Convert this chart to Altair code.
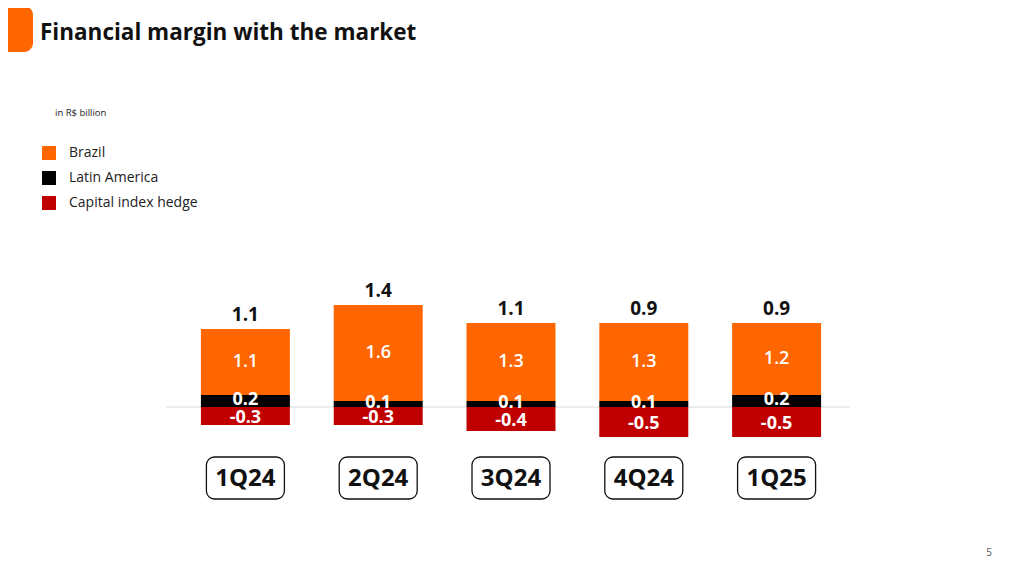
import altair as alt
import pandas as pd

# ---- data ----
quarters = ["1Q24", "2Q24", "3Q24", "4Q24", "1Q25"]
brazil = [1.1, 1.6, 1.3, 1.3, 1.2]
latam = [0.2, 0.1, 0.1, 0.1, 0.2]
hedge = [-0.3, -0.3, -0.4, -0.5, -0.5]
totals = [1.1, 1.4, 1.1, 0.9, 0.9]
series_names = ["Brazil", "Latin America", "Capital index hedge"]
series_colors = ["#FF6600", "#000000", "#C00000"]

FONT = "Open Sans"

rows = []
for i, q in enumerate(quarters):
    rows.append({"quarter": q, "series": "Latin America", "value": latam[i], "order": 1})
    rows.append({"quarter": q, "series": "Brazil", "value": brazil[i], "order": 2})
    rows.append({"quarter": q, "series": "Capital index hedge", "value": hedge[i], "order": 3})
long_df = pd.DataFrame(rows)

tot_df = pd.DataFrame({
    "quarter": quarters,
    "total": totals,
    "top": [b + l for b, l in zip(brazil, latam)],
})
q_df = pd.DataFrame({"quarter": quarters})
one = pd.DataFrame({"a": [0]})

xscale = alt.Scale(domain=quarters, range=[171, 835], paddingInner=0.33, paddingOuter=0.165)
yscale = alt.Scale(domain=[-1, 2], range=[459, 279], nice=False, zero=False)

X = alt.X("quarter:N", scale=xscale, axis=None)

label_expr = "(datum.value < 0 ? '-' : '') + format(abs(datum.value), '.1f')"

base = alt.Chart(long_df).transform_stack(
    stack="value", groupby=["quarter"], as_=["y0", "y1"],
    sort=[alt.SortField("order", order="ascending")], offset="zero"
).transform_calculate(
    mid="(datum.y0 + datum.y1) / 2", label=label_expr
)

zero_line = alt.Chart(one).mark_rule(color="#d9d9d9", strokeWidth=1).encode(
    y=alt.Y("z:Q", scale=yscale, axis=None),
    x=alt.value(158), x2=alt.value(842),
).transform_calculate(z="0")

bars = base.mark_bar(strokeWidth=0).encode(
    x=X,
    y=alt.Y("y0:Q", scale=yscale, axis=None),
    y2="y1:Q",
    color=alt.Color(
        "series:N",
        scale=alt.Scale(domain=series_names, range=series_colors),
        legend=alt.Legend(
            title=None, orient="none", legendX=34, legendY=138,
            symbolType="square", symbolSize=196, symbolStrokeWidth=0,
            symbolOpacity=1, labelFontSize=14, labelFont=FONT,
            labelColor="#222222", rowPadding=11, labelOffset=13,
        ),
    ),
)

seg_labels_b = base.transform_filter("datum.series == 'Brazil'").mark_text(
    color="white", font=FONT, fontSize=18, fontWeight=600, baseline="middle", dy=0
).encode(x=X, y=alt.Y("mid:Q", scale=yscale, axis=None), text="label:N")

seg_labels_l = base.transform_filter("datum.series == 'Latin America'").mark_text(
    color="white", font=FONT, fontSize=18, fontWeight="bold", baseline="middle", dy=-1
).encode(x=X, y=alt.Y("mid:Q", scale=yscale, axis=None), text="label:N")

seg_labels_h = base.transform_filter("datum.series == 'Capital index hedge'").mark_text(
    color="white", font=FONT, fontSize=18, fontWeight="bold", baseline="middle", dy=2
).encode(x=X, y=alt.Y("mid:Q", scale=yscale, axis=None), text="label:N")

total_labels = alt.Chart(tot_df).transform_calculate(
    tl="format(datum.total, '.1f')"
).mark_text(
    color="#111111", font=FONT, fontSize=19, fontWeight="bold", baseline="alphabetic", dy=-8
).encode(x=X, y=alt.Y("top:Q", scale=yscale, axis=None), text="tl:N")

boxes = alt.Chart(q_df).mark_bar(
    size=78, cornerRadius=8, fill="white", stroke="#111111", strokeWidth=1.3
).encode(x=X, y=alt.value(449), y2=alt.value(491))

box_text = alt.Chart(q_df).mark_text(
    font=FONT, fontSize=24, fontWeight="bold", color="#111111", baseline="middle"
).encode(x=X, y=alt.value(471), text="quarter:N")

corner = alt.Chart(one).mark_rect(color="#FF6600", cornerRadius=9).encode(
    x=alt.value(-20), x2=alt.value(25), y=alt.value(-2), y2=alt.value(44)
)

title = alt.Chart(one).mark_text(
    text="Financial margin with the market", font=FONT, fontSize=22.5,
    fontWeight="bold", color="#111111", align="left", baseline="alphabetic"
).encode(x=alt.value(32), y=alt.value(32))

subtitle = alt.Chart(one).mark_text(
    text="in R$ billion", font=FONT, fontSize=9.5, color="#222222",
    align="left", baseline="middle"
).encode(x=alt.value(47), y=alt.value(105))

page_no = alt.Chart(one).mark_text(
    text="5", font=FONT, fontSize=10, color="#555555", align="center", baseline="middle"
).encode(x=alt.value(981), y=alt.value(545))

chart = alt.layer(
    corner, title, subtitle, page_no, zero_line, bars,
    seg_labels_b, seg_labels_l, seg_labels_h, total_labels, boxes, box_text
).properties(
    width=1003, height=557,
    autosize=alt.AutoSizeParams(type="none"),
    padding=0,
    background="white",
).configure_view(stroke=None)

chart.save("out.html", embed_options={"renderer": "svg", "actions": False})
